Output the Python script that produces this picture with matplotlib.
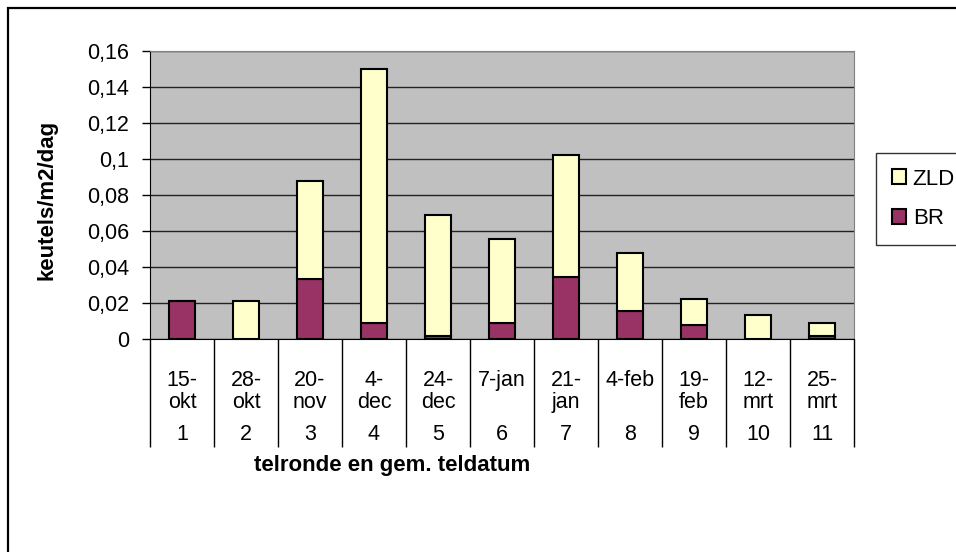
import matplotlib.pyplot as plt
from matplotlib.patches import Rectangle
from matplotlib.transforms import blended_transform_factory
import numpy as np

plt.rcParams['font.family'] = ['Liberation Sans', 'DejaVu Sans']

# gegevens per telronde
rondes = ['1', '2', '3', '4', '5', '6', '7', '8', '9', '10', '11']
datums = ['15-\nokt', '28-\nokt', '20-\nnov', '4-\ndec', '24-\ndec', '7-jan',
          '21-\njan', '4-feb', '19-\nfeb', '12-\nmrt', '25-\nmrt']
br = [0.021, 0.0, 0.0334, 0.0089, 0.0015, 0.0089, 0.0343, 0.0157, 0.0078, 0.0, 0.0017]
zld = [0.0, 0.021, 0.0541, 0.1407, 0.0674, 0.0465, 0.0677, 0.0321, 0.0145, 0.0135, 0.0073]
yticks = [0, 0.02, 0.04, 0.06, 0.08, 0.1, 0.12, 0.14, 0.16]

FS = 15.5

W, H = 956, 552
fig = plt.figure(figsize=(W / 100, H / 100), dpi=100)
fig.patch.set_facecolor('white')

# rand rond de hele grafiek
fig.patches.append(Rectangle((8 / W, -0.05), 1.1, 1 - 8 / H + 0.05, transform=fig.transFigure,
                             fill=False, edgecolor='black', linewidth=1.6))

x0, x1, ytop, ybot = 150, 854, 50.7, 339
ax = fig.add_axes([x0 / W, 1 - ybot / H, (x1 - x0) / W, (ybot - ytop) / H])
ax.set_facecolor('#C0C0C0')

x = np.arange(len(rondes))
b1 = ax.bar(x, br, width=0.41, color='#993366', edgecolor='black', linewidth=1.5, zorder=3, label='BR')
b2 = ax.bar(x, zld, width=0.41, bottom=br, color='#FFFFCC', edgecolor='black', linewidth=1.5,
            zorder=3, label='ZLD')

ax.set_ylim(0, 0.16)
ax.set_xlim(-0.5, len(rondes) - 0.5)
ax.set_yticks(yticks)
ax.set_yticklabels([('%g' % v).replace('.', ',') for v in yticks], fontsize=FS)
ax.yaxis.grid(True, color='#222222', linewidth=1)
ax.set_axisbelow(True)
ax.tick_params(axis='y', length=6, width=1, pad=9)

# categorie-scheidingslijnen als lange ticks
ax.set_xticks(np.arange(-0.5, len(rondes), 1))
ax.set_xticklabels([])
ax.tick_params(axis='x', length=108 * 0.72, width=1, direction='out')

trans = blended_transform_factory(ax.transData, fig.transFigure)
for i in range(len(rondes)):
    ax.text(i, 1 - 370 / H, datums[i], transform=trans, ha='center', va='top', fontsize=FS,
            linespacing=1.05)
    ax.text(i, 1 - 434 / H, rondes[i], transform=trans, ha='center', va='center', fontsize=FS)

for s in ['top', 'right']:
    ax.spines[s].set_color('#808080')
for s in ['left', 'bottom']:
    ax.spines[s].set_color('black')

fig.text(47 / W, 1 - 200 / H, 'keutels/m2/dag', rotation=90, ha='center', va='center',
         fontsize=16, fontweight='bold')
fig.text(392 / W, 1 - 466 / H, 'telronde en gem. teldatum', ha='center', va='center',
         fontsize=16, fontweight='bold')

leg = ax.legend([b2, b1], ['ZLD', 'BR'], loc='upper left', bbox_to_anchor=(876 / W, 1 - 153 / H),
                bbox_transform=fig.transFigure, fontsize=16, frameon=True, fancybox=False,
                handlelength=0.65, handleheight=0.65, handletextpad=0.3, borderpad=0.7,
                labelspacing=0.85, borderaxespad=0)
leg.get_frame().set_edgecolor('black')
leg.get_frame().set_linewidth(1)

fig.savefig('out.png', dpi=100)
